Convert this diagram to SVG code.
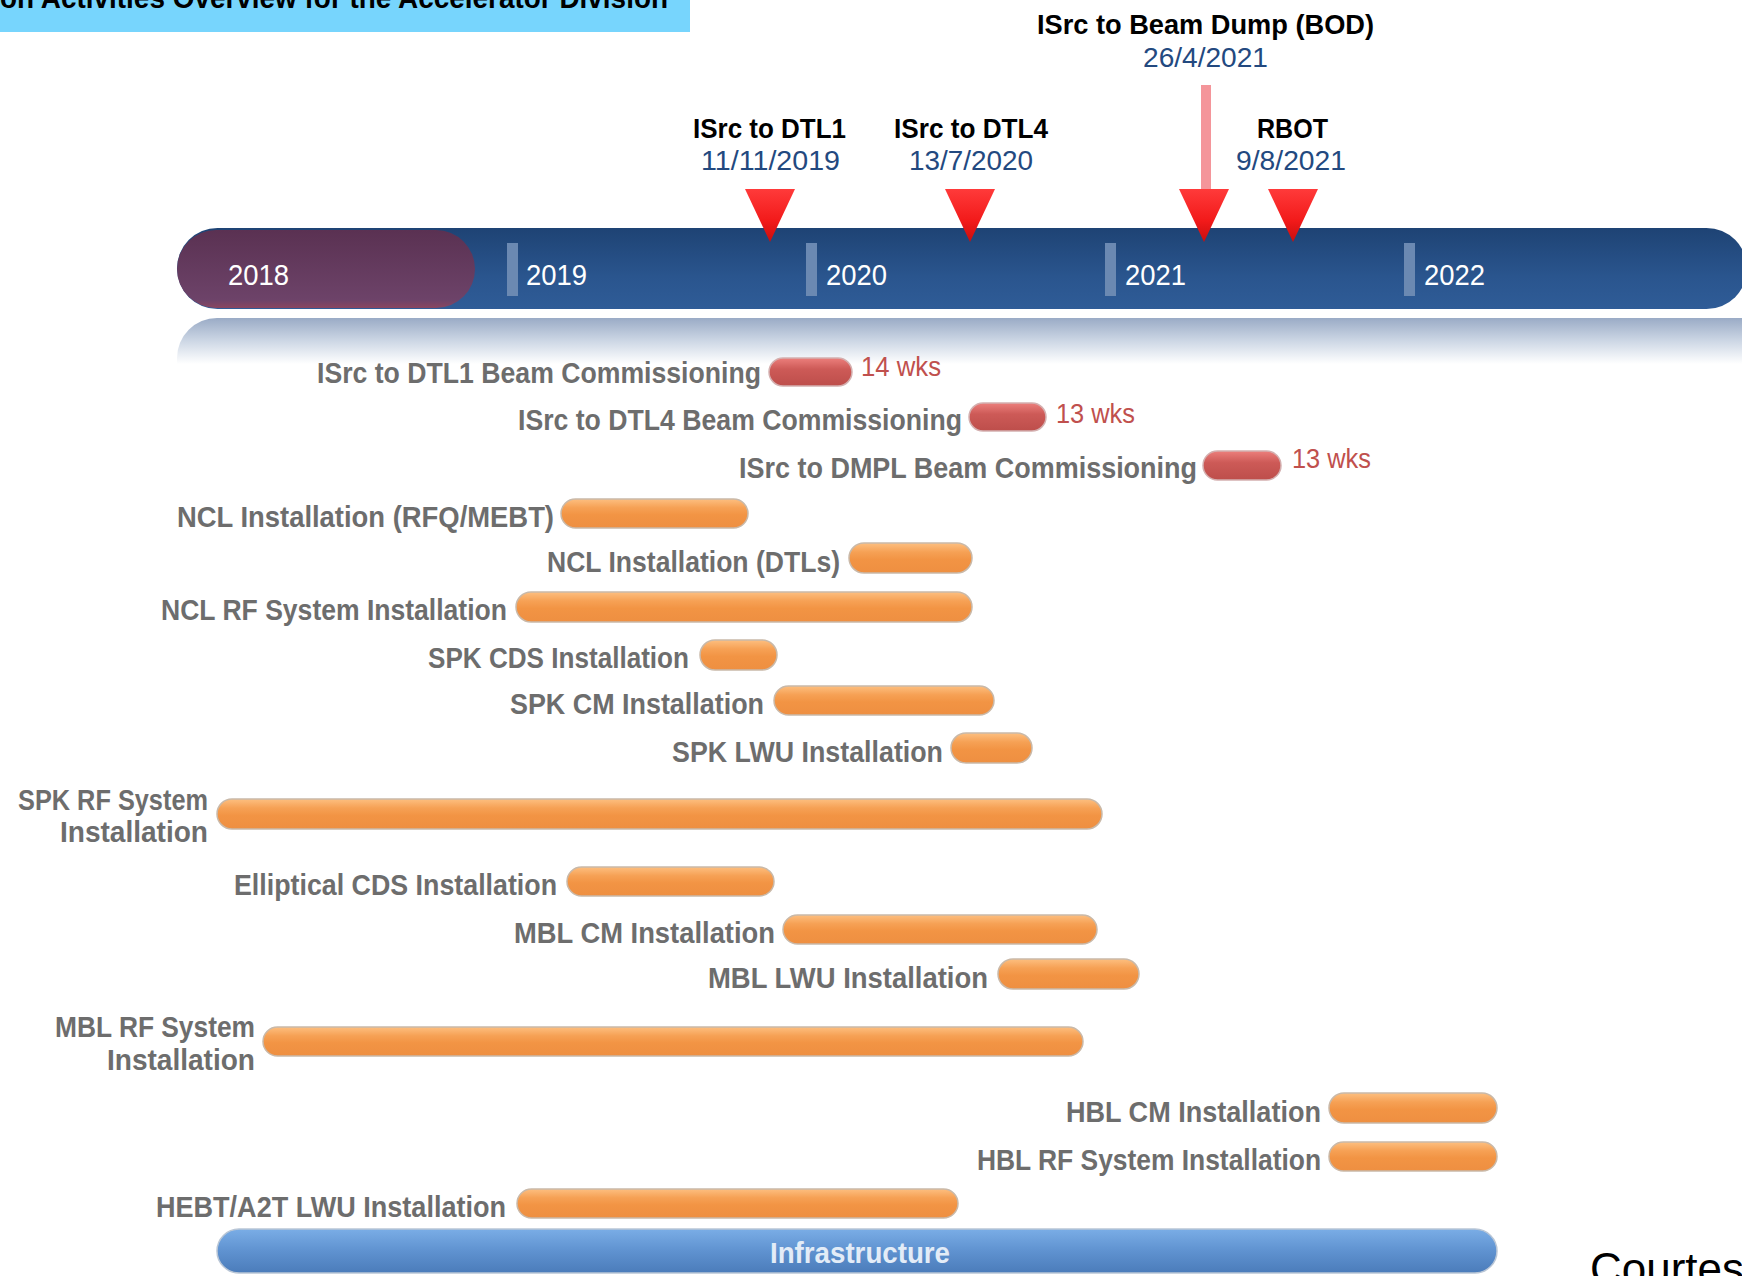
<svg xmlns="http://www.w3.org/2000/svg" width="1742" height="1276" viewBox="0 0 1742 1276">
<defs>
<style>
.lbl{font-family:"Liberation Sans",Arial,sans-serif;font-weight:bold;font-size:29px;fill:#6D6D6D}
.wks{font-family:"Liberation Sans",Arial,sans-serif;font-size:28px;fill:#C0504D}
.ms{font-family:"Liberation Sans",Arial,sans-serif;font-weight:bold;font-size:27px;fill:#000}
.dt{font-family:"Liberation Sans",Arial,sans-serif;font-size:27px;fill:#23497F}
.yr{font-family:"Liberation Sans",Arial,sans-serif;font-size:29px;fill:#fff}
.ob{fill:url(#og);stroke:#c9b9a9;stroke-width:1.5}
.rb{fill:url(#rg);stroke:#d4b0b0;stroke-width:1.5}
.tri{fill:url(#tg)}
.tick{fill:#6B89B2}
</style>
<linearGradient id="bg" x1="0" y1="0" x2="0" y2="1">
<stop offset="0" stop-color="#1E4374"/><stop offset="0.6" stop-color="#2A558E"/><stop offset="1" stop-color="#2F5C97"/>
</linearGradient>
<linearGradient id="pg" x1="0" y1="0" x2="0" y2="1">
<stop offset="0" stop-color="#5A3152"/><stop offset="0.9" stop-color="#6D4369"/><stop offset="1" stop-color="#8A4660"/>
</linearGradient>
<linearGradient id="tg" x1="0" y1="0" x2="0" y2="1">
<stop offset="0" stop-color="#FF3A3A"/><stop offset="0.6" stop-color="#F21A1A"/><stop offset="1" stop-color="#C80E0E"/>
</linearGradient>
<linearGradient id="og" x1="0" y1="0" x2="0" y2="1">
<stop offset="0" stop-color="#FDBF80"/><stop offset="0.3" stop-color="#F6A155"/><stop offset="0.55" stop-color="#F29444"/><stop offset="1" stop-color="#EE8F41"/>
</linearGradient>
<linearGradient id="rg" x1="0" y1="0" x2="0" y2="1">
<stop offset="0" stop-color="#EC7F7C"/><stop offset="0.4" stop-color="#CD5A57"/><stop offset="1" stop-color="#BD4E4B"/>
</linearGradient>
<linearGradient id="ig" x1="0" y1="0" x2="0" y2="1">
<stop offset="0" stop-color="#7AADE6"/><stop offset="0.5" stop-color="#5F92D0"/><stop offset="1" stop-color="#4B7CBA"/>
</linearGradient>
<linearGradient id="fg" x1="0" y1="0" x2="0" y2="1">
<stop offset="0" stop-color="#9AABC6"/><stop offset="0.5" stop-color="#CDD7E5"/><stop offset="1" stop-color="#FFFFFF"/>
</linearGradient>
</defs>
<rect width="1742" height="1276" fill="#fff"/>

<g id="title">
<rect x="0" y="0" width="690" height="32" fill="#77D5FD"/>
<text x="0" y="8" font-family="Liberation Sans, Arial, sans-serif" font-weight="bold" font-size="30" fill="#000" textLength="668" lengthAdjust="spacingAndGlyphs">on Activities Overview for the Accelerator Division</text>
</g>

<g id="timeline">
<path d="M217,318 H1742 V364 H177 V358 A40,40 0 0 1 217,318 Z" fill="url(#fg)"/>
<rect x="177" y="228" width="1570" height="81" rx="40.5" fill="url(#bg)"/>
<rect x="177" y="230" width="298" height="78" rx="39" fill="url(#pg)"/>
<rect class="tick" x="507" y="243" width="11" height="53"/>
<rect class="tick" x="806" y="243" width="11" height="53"/>
<rect class="tick" x="1105" y="243" width="11" height="53"/>
<rect class="tick" x="1404" y="243" width="11" height="53"/>
<text class="yr" x="228" y="285" textLength="61" lengthAdjust="spacingAndGlyphs">2018</text>
<text class="yr" x="526" y="285" textLength="61" lengthAdjust="spacingAndGlyphs">2019</text>
<text class="yr" x="826" y="285" textLength="61" lengthAdjust="spacingAndGlyphs">2020</text>
<text class="yr" x="1125" y="285" textLength="61" lengthAdjust="spacingAndGlyphs">2021</text>
<text class="yr" x="1424" y="285" textLength="61" lengthAdjust="spacingAndGlyphs">2022</text>
</g>

<g id="connectors">
<rect x="1201" y="85" width="10" height="106" fill="#F4959A"/>
</g>

<g id="ms-dtl1">
<text class="ms" x="693" y="138" textLength="153" lengthAdjust="spacingAndGlyphs">ISrc to DTL1</text>
<text class="dt" x="701" y="170" textLength="139" lengthAdjust="spacingAndGlyphs">11/11/2019</text>
<path class="tri" d="M745,189 H795 L770,242 Z"/>
</g>
<g id="ms-dtl4">
<text class="ms" x="894" y="138" textLength="154" lengthAdjust="spacingAndGlyphs">ISrc to DTL4</text>
<text class="dt" x="909" y="170" textLength="124" lengthAdjust="spacingAndGlyphs">13/7/2020</text>
<path class="tri" d="M945,189 H995 L970,242 Z"/>
</g>
<g id="ms-bod">
<text class="ms" x="1037" y="34" textLength="337" lengthAdjust="spacingAndGlyphs">ISrc to Beam Dump (BOD)</text>
<text class="dt" x="1143" y="67" textLength="125" lengthAdjust="spacingAndGlyphs">26/4/2021</text>
<path class="tri" d="M1179,189 H1229 L1204,242 Z"/>
</g>
<g id="ms-rbot">
<text class="ms" x="1257" y="138" textLength="71" lengthAdjust="spacingAndGlyphs">RBOT</text>
<text class="dt" x="1236" y="170" textLength="110" lengthAdjust="spacingAndGlyphs">9/8/2021</text>
<path class="tri" d="M1268,189 H1318 L1293,242 Z"/>
</g>

<g id="task-dtl1-comm">
<text class="lbl" x="317" y="383" textLength="444" lengthAdjust="spacingAndGlyphs">ISrc to DTL1 Beam Commissioning</text>
<rect class="rb" x="769" y="358" width="83" height="28" rx="14"/>
<text class="wks" x="861" y="376" textLength="80" lengthAdjust="spacingAndGlyphs">14 wks</text>
</g>
<g id="task-dtl4-comm">
<text class="lbl" x="518" y="430" textLength="444" lengthAdjust="spacingAndGlyphs">ISrc to DTL4 Beam Commissioning</text>
<rect class="rb" x="969" y="403" width="77" height="28" rx="14"/>
<text class="wks" x="1056" y="423" textLength="79" lengthAdjust="spacingAndGlyphs">13 wks</text>
</g>
<g id="task-dmpl-comm">
<text class="lbl" x="739" y="478" textLength="458" lengthAdjust="spacingAndGlyphs">ISrc to DMPL Beam Commissioning</text>
<rect class="rb" x="1203" y="451" width="78" height="29" rx="14.5"/>
<text class="wks" x="1292" y="468" textLength="79" lengthAdjust="spacingAndGlyphs">13 wks</text>
</g>
<g id="task-ncl-rfq">
<text class="lbl" x="177" y="527" textLength="377" lengthAdjust="spacingAndGlyphs">NCL Installation (RFQ/MEBT)</text>
<rect class="ob" x="561" y="499" width="187" height="29" rx="14.5"/>
</g>
<g id="task-ncl-dtl">
<text class="lbl" x="547" y="572" textLength="293" lengthAdjust="spacingAndGlyphs">NCL Installation (DTLs)</text>
<rect class="ob" x="849" y="543" width="123" height="30" rx="15"/>
</g>
<g id="task-ncl-rf">
<text class="lbl" x="161" y="620" textLength="346" lengthAdjust="spacingAndGlyphs">NCL RF System Installation</text>
<rect class="ob" x="516" y="592" width="456" height="30" rx="15"/>
</g>
<g id="task-spk-cds">
<text class="lbl" x="428" y="668" textLength="261" lengthAdjust="spacingAndGlyphs">SPK CDS Installation</text>
<rect class="ob" x="700" y="640" width="77" height="30" rx="15"/>
</g>
<g id="task-spk-cm">
<text class="lbl" x="510" y="714" textLength="254" lengthAdjust="spacingAndGlyphs">SPK CM Installation</text>
<rect class="ob" x="774" y="686" width="220" height="29" rx="14.5"/>
</g>
<g id="task-spk-lwu">
<text class="lbl" x="672" y="762" textLength="271" lengthAdjust="spacingAndGlyphs">SPK LWU Installation</text>
<rect class="ob" x="951" y="733" width="81" height="30" rx="15"/>
</g>
<g id="task-spk-rf">
<text class="lbl" x="18" y="810" textLength="190" lengthAdjust="spacingAndGlyphs">SPK RF System</text>
<text class="lbl" x="60" y="842" textLength="148" lengthAdjust="spacingAndGlyphs">Installation</text>
<rect class="ob" x="217" y="799" width="885" height="30" rx="15"/>
</g>
<g id="task-ell-cds">
<text class="lbl" x="234" y="895" textLength="323" lengthAdjust="spacingAndGlyphs">Elliptical CDS Installation</text>
<rect class="ob" x="567" y="867" width="207" height="29" rx="14.5"/>
</g>
<g id="task-mbl-cm">
<text class="lbl" x="514" y="943" textLength="261" lengthAdjust="spacingAndGlyphs">MBL CM Installation</text>
<rect class="ob" x="783" y="915" width="314" height="29" rx="14.5"/>
</g>
<g id="task-mbl-lwu">
<text class="lbl" x="708" y="988" textLength="280" lengthAdjust="spacingAndGlyphs">MBL LWU Installation</text>
<rect class="ob" x="998" y="959" width="141" height="30" rx="15"/>
</g>
<g id="task-mbl-rf">
<text class="lbl" x="55" y="1037" textLength="200" lengthAdjust="spacingAndGlyphs">MBL RF System</text>
<text class="lbl" x="107" y="1070" textLength="148" lengthAdjust="spacingAndGlyphs">Installation</text>
<rect class="ob" x="263" y="1027" width="820" height="29" rx="14.5"/>
</g>
<g id="task-hbl-cm">
<text class="lbl" x="1066" y="1122" textLength="255" lengthAdjust="spacingAndGlyphs">HBL CM Installation</text>
<rect class="ob" x="1329" y="1093" width="168" height="30" rx="15"/>
</g>
<g id="task-hbl-rf">
<text class="lbl" x="977" y="1170" textLength="344" lengthAdjust="spacingAndGlyphs">HBL RF System Installation</text>
<rect class="ob" x="1329" y="1142" width="168" height="29" rx="14.5"/>
</g>
<g id="task-hebt-lwu">
<text class="lbl" x="156" y="1217" textLength="350" lengthAdjust="spacingAndGlyphs">HEBT/A2T LWU Installation</text>
<rect class="ob" x="517" y="1189" width="441" height="29" rx="14.5"/>
</g>
<g id="task-infra">
<rect x="217" y="1229" width="1280" height="44" rx="22" fill="url(#ig)" stroke="#b9c6d6" stroke-width="1.5"/>
<text x="770" y="1263" font-family="Liberation Sans, Arial, sans-serif" font-weight="bold" font-size="29" fill="#E3ECF7" textLength="180" lengthAdjust="spacingAndGlyphs">Infrastructure</text>
</g>

<g id="credit">
<text x="1590" y="1284" font-family="Liberation Sans, Arial, sans-serif" font-size="44" fill="#000">Courtes</text>
</g>
</svg>
